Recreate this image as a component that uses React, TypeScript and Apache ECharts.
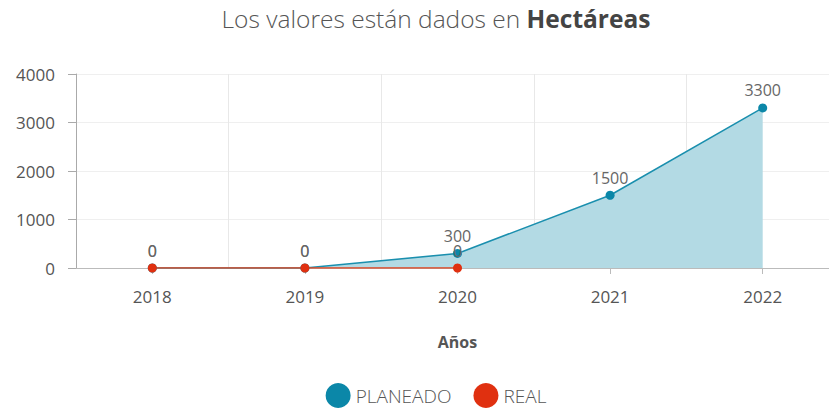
import React, { useEffect, useRef } from "react";
import * as echarts from "echarts";

const categories = ["2018", "2019", "2020", "2021", "2022"];
const planeado = [0, 0, 300, 1500, 3300];
const real = [0, 0, 0];
const yTicks = [0, 1000, 2000, 3000, 4000];

const FONT = "'Open Sans', Lato, sans-serif";

export default function App() {
  const ref = useRef<HTMLDivElement>(null);
  useEffect(() => {
    document.body.style.margin = "0";
    const chart = echarts.init(ref.current!, null, { renderer: "svg" });
    chart.setOption({
      animation: false,
      textStyle: { fontFamily: FONT },
      title: {
        text: "Los valores están dados en {b|Hectáreas}",
        left: "center",
        top: 1,
        textStyle: {
          fontFamily: FONT,
          fontSize: 24.5,
          fontWeight: 300,
          color: "#555",
          rich: { b: { fontFamily: FONT, fontSize: 24.5, fontWeight: "bold", color: "#444" } },
        },
      },
      legend: {
        bottom: -4,
        left: "center",
        icon: "circle",
        itemWidth: 25,
        itemHeight: 25,
        itemGap: 22,
        textStyle: { fontFamily: FONT, fontSize: 19, fontWeight: 300, color: "#555" },
        data: ["PLANEADO", "REAL"],
      },
      grid: { left: 76, right: 33, top: 74, height: 194 },
      xAxis: {
        type: "category",
        data: categories,
        boundaryGap: true,
        name: "Años",
        nameLocation: "middle",
        nameGap: 66,
        nameTextStyle: { fontFamily: FONT, fontSize: 16, fontWeight: "bold", color: "#555" },
        axisLine: { lineStyle: { color: "#bbb" } },
        axisTick: { show: true, alignWithLabel: true, length: 6, lineStyle: { color: "#bbb" } },
        axisLabel: { fontFamily: FONT, fontSize: 17, color: "#555", margin: 20 },
        splitLine: { show: true, lineStyle: { color: "#e8e8e8" } },
      },
      yAxis: {
        type: "value",
        min: 0,
        max: 4000,
        interval: 1000,
        axisLine: { show: true, lineStyle: { color: "#aaa" } },
        axisTick: { show: true, length: 8, lineStyle: { color: "#aaa" } },
        axisLabel: { fontFamily: FONT, fontSize: 17, color: "#555", margin: 21, formatter: (v: number) => (yTicks.includes(v) ? String(v) : "") },
        splitLine: { show: true, lineStyle: { color: "#efefef" } },
      },
      series: [
        {
          name: "PLANEADO",
          type: "line",
          data: planeado,
          symbol: "circle",
          symbolSize: 9,
          itemStyle: { color: "#0b87a8" },
          lineStyle: { color: "#1a8fae", width: 1.5 },
          areaStyle: { color: "#b3dae4", opacity: 1 },
          label: { show: true, position: "top", fontFamily: FONT, fontSize: 16, color: "#666", distance: 5 },
        },
        {
          name: "REAL",
          type: "line",
          data: real,
          symbol: "circle",
          symbolSize: 9,
          itemStyle: { color: "#e03010" },
          lineStyle: { color: "#e0441f", width: 1.5 },
          label: { show: true, position: "top", fontFamily: FONT, fontSize: 16, color: "#666", distance: 5 },
        },
      ],
    });
    return () => chart.dispose();
  }, []);
  return (
    <div style={{ width: 829, height: 409, overflow: "hidden" }}>
      <div ref={ref} style={{ width: 872, height: 409 }} />
    </div>
  );
}
